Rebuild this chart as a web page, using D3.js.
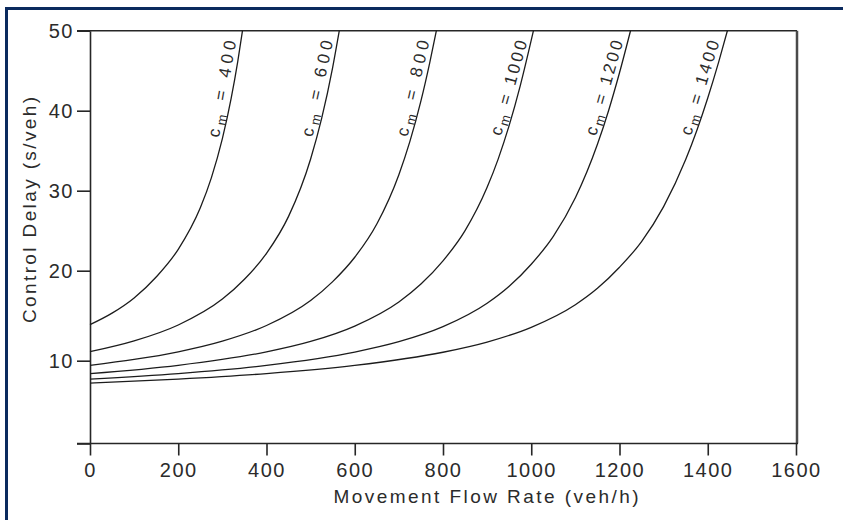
<!DOCTYPE html>
<html><head><meta charset="utf-8">
<script src="https://cdn.jsdelivr.net/npm/d3@7"></script>
<style>body{margin:0;background:#fff}svg{display:block}text{font-family:"Liberation Sans",Arial,sans-serif;fill:#2b2b2b}</style>
</head><body><svg id="c" width="843" height="520"></svg>
<script>
// ---- data ----
const capacities = [400, 600, 800, 1000, 1200, 1400];
const flow400  = [0, 50, 100, 150, 200, 250, 275, 300, 320, 335, 345.6];
const delay400 = [14.0, 15.28, 16.97, 19.30, 22.67, 27.86, 31.60, 36.50, 41.56, 46.20, 50];
const flow600  = [0, 100, 200, 300, 350, 400, 450, 500, 525, 550, 565];
const delay600 = [11.0, 12.20, 13.97, 16.85, 19.05, 22.17, 26.79, 33.97, 39.03, 45.42, 50];
const flow800  = [0, 100, 200, 300, 400, 500, 550, 600, 650, 700, 725, 750, 770, 785];
const delay800 = [9.5, 10.14, 10.99, 12.17, 13.91, 16.69, 18.79, 21.68, 25.84, 32.00, 36.16, 41.22, 46.01, 50];
const flow1000  = [0, 200, 400, 500, 600, 700, 750, 800, 850, 900, 925, 950, 975, 1005];
const delay1000 = [8.6, 9.50, 10.98, 12.14, 13.85, 16.53, 18.52, 21.23, 25.01, 30.42, 33.95, 38.16, 43.11, 50];
const flow1200  = [0, 200, 400, 600, 700, 800, 900, 950, 1000, 1050, 1100, 1150, 1175, 1200, 1225];
const delay1200 = [8.0, 8.60, 9.49, 10.96, 12.11, 13.78, 16.38, 18.27, 20.81, 24.29, 29.11, 35.80, 39.97, 44.74, 50];
const flow1400  = [0, 200, 400, 600, 800, 900, 1000, 1100, 1150, 1200, 1250, 1300, 1350, 1375, 1400, 1425, 1444.5];
const delay1400 = [7.57, 8.00, 8.60, 9.49, 10.94, 12.07, 13.71, 16.22, 18.04, 20.43, 23.64, 28.01, 33.89, 37.50, 41.59, 46.14, 50];
const xTicks = [0, 200, 400, 600, 800, 1000, 1200, 1400, 1600];
const yTicks = [10, 20, 30, 40, 50];
const yBreaks = [1, 10, 20, 50];   // the printed axis is not uniform below 20
const xTitle = "Movement Flow Rate (veh/h)";
const yTitle = "Control Delay (s/veh)";
const labelDelay = 42.5;

const flows  = [flow400, flow600, flow800, flow1000, flow1200, flow1400];
const delays = [delay400, delay600, delay800, delay1000, delay1200, delay1400];

// ---- drawing ----
const svg = d3.select("#c");
const x = d3.scaleLinear().domain([0, 1600]).range([90, 796]);
const y = d3.scaleLinear().domain(yBreaks).range([443.5, 360.7, 270.7, 30.7]);
const ink = "#262626";

// navy frame
svg.append("rect").attr("x", 5).attr("y", 7).attr("width", 838).attr("height", 3).attr("fill", "#0b2a5e");
svg.append("rect").attr("x", 5).attr("y", 7).attr("width", 3).attr("height", 513).attr("fill", "#0b2a5e");

// box: top + right
svg.append("line").attr("x1", x(0) - 13).attr("x2", x(1600) + 1).attr("y1", y(50)).attr("y2", y(50))
  .attr("stroke", ink).attr("stroke-width", 1.5);
svg.append("line").attr("x1", x(1600) + 1).attr("x2", x(1600) + 1).attr("y1", y(50)).attr("y2", y(yBreaks[0]))
  .attr("stroke", "#4a4a4a").attr("stroke-width", 2.5);

// axes
const gx = svg.append("g").attr("transform", `translate(0,${y(yBreaks[0])})`)
  .call(d3.axisBottom(x).tickValues(xTicks).tickSize(12).tickSizeOuter(0).tickPadding(7).tickFormat(d3.format("d")));
const gy = svg.append("g").attr("transform", `translate(${x(0)},0)`)
  .call(d3.axisLeft(y).tickValues([yBreaks[0]].concat(yTicks)).tickSize(13).tickSizeOuter(0).tickPadding(3)
    .tickFormat(d => yTicks.includes(d) ? d : ""));
[gx, gy].forEach(g => {
  g.select(".domain").attr("stroke", ink).attr("stroke-width", 1.6);
  g.selectAll(".tick line").attr("stroke", ink).attr("stroke-width", 1.6);
  g.selectAll(".tick text").attr("font-size", 20).attr("letter-spacing", "1.5px")
    .attr("fill", "#2b2b2b").attr("font-family", "Liberation Sans, Arial, sans-serif");
});
gx.select(".domain").remove();
svg.append("line").attr("x1", x(0) - 13).attr("x2", x(1600) + 2).attr("y1", y(yBreaks[0])).attr("y2", y(yBreaks[0]))
  .attr("stroke", ink).attr("stroke-width", 1.6);

// titles
svg.append("text").attr("x", 486).attr("y", 503).attr("text-anchor", "middle")
  .attr("font-size", 19).attr("textLength", 305).attr("lengthAdjust", "spacing").text(xTitle);
svg.append("text").attr("transform", "translate(36,210) rotate(-90)").attr("text-anchor", "middle")
  .attr("font-size", 19).attr("textLength", 226).attr("lengthAdjust", "spacing").text(yTitle);

// curves
const line = d3.line().x(d => x(d[0])).y(d => y(d[1])).curve(d3.curveMonotoneX);
capacities.forEach((c, i) => {
  const pts = flows[i].map((f, j) => [f, delays[i][j]]);
  svg.append("path").datum(pts).attr("d", line).attr("fill", "none")
    .attr("stroke", "#1c1c1c").attr("stroke-width", 1.3);

  // label placement along the curve at labelDelay
  let k = pts.findIndex(p => p[1] >= labelDelay);
  const p0 = pts[k - 1], p1 = pts[k];
  const t = (labelDelay - p0[1]) / (p1[1] - p0[1]);
  const fv = p0[0] + t * (p1[0] - p0[0]);
  const cx = x(fv), cy = y(labelDelay);
  const ang = Math.atan2(y(p1[1]) - y(p0[1]), x(p1[0]) - x(p0[0]));
  const deg = ang * 180 / Math.PI;
  const off = 5;
  const ax = cx + off * Math.sin(ang), ay = cy - off * Math.cos(ang);
  const lt = svg.append("text").attr("transform", `translate(${ax},${ay}) rotate(${deg})`)
    .attr("text-anchor", "middle").attr("font-size", 17)
    .attr("textLength", 98).attr("lengthAdjust", "spacing");
  lt.append("tspan").text("c");
  lt.append("tspan").attr("dy", 4).attr("font-size", 13).text("m");
  lt.append("tspan").attr("dy", -4).text(" = " + c);
});
</script></body></html>
